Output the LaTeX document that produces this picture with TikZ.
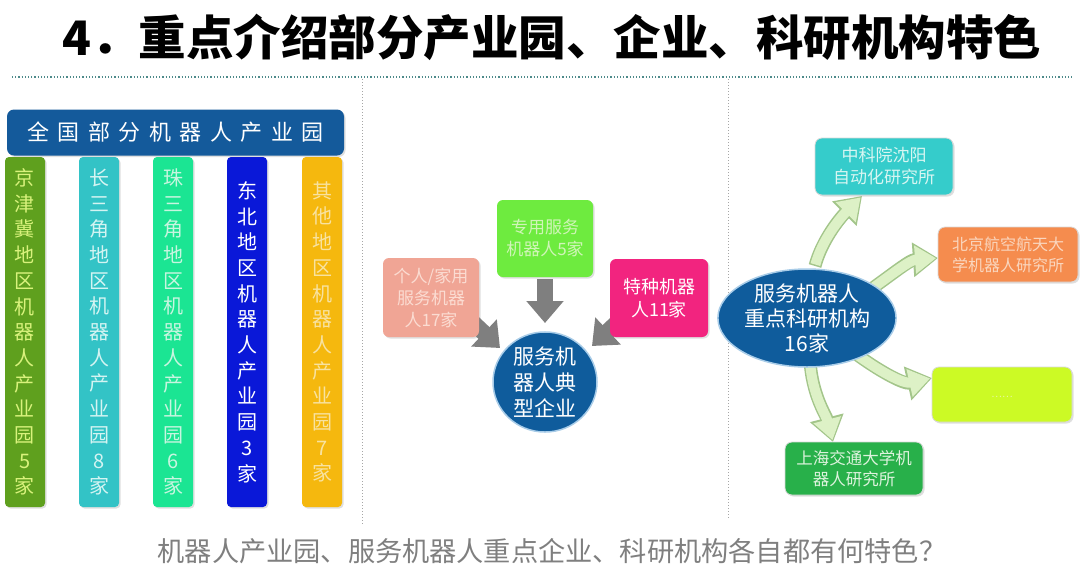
\documentclass[tikz,border=0pt]{standalone}
\usepackage{fontspec}
\newfontfamily\cjk{Noto Sans CJK SC}
\usetikzlibrary{arrows.meta,shapes.geometric,shadows}
\definecolor{hdrblue}{HTML}{145A9B}
\definecolor{colA}{HTML}{5FA01E}\definecolor{txtA}{HTML}{D9F27C}
\definecolor{colB}{HTML}{33C3C6}\definecolor{txtB}{HTML}{D4F4F2}
\definecolor{colC}{HTML}{1BE593}\definecolor{txtC}{HTML}{C8F5E0}
\definecolor{colD}{HTML}{0A18D8}
\definecolor{colE}{HTML}{F5B80E}\definecolor{txtE}{HTML}{F8E2A0}
\definecolor{specg}{HTML}{6EEB3F}\definecolor{spect}{HTML}{D0F5B8}
\definecolor{persp}{HTML}{F0A595}\definecolor{perst}{HTML}{FBDCD2}
\definecolor{magent}{HTML}{F2247F}
\definecolor{circb}{HTML}{0F5C9C}\definecolor{circl}{HTML}{A8CCE8}
\definecolor{tealb}{HTML}{35CCCB}\definecolor{tealt}{HTML}{D8F6F2}
\definecolor{orab}{HTML}{F58C4E}\definecolor{orat}{HTML}{FAD6BE}
\definecolor{limeb}{HTML}{CCFA25}\definecolor{limet}{HTML}{E8F8A0}
\definecolor{grnb}{HTML}{28B04A}\definecolor{grnt}{HTML}{DDF3DD}
\definecolor{arrfill}{HTML}{DDF1C6}\definecolor{arrline}{HTML}{A3C58A}
\definecolor{grayarr}{HTML}{7F7F7F}
\definecolor{dotc}{HTML}{4D8A8A}
\begin{document}
\begin{tikzpicture}[x=1pt,y=-1pt,
  shad/.style={drop shadow={opacity=0.25,shadow xshift=1.5pt,shadow yshift=-1.5pt}},
  sepline/.style={draw=dotc,dotted,line width=1.2pt},
  vsep/.style={draw=gray!70,dotted,line width=1pt},
  colbox/.style={rectangle,rounded corners=4pt,minimum width=40pt,minimum height=350pt,inner sep=0pt,align=center,font=\cjk\fontsize{20}{25.7}\selectfont,shad},
  mbox/.style={rectangle,rounded corners=6pt,inner sep=0pt,align=center,font=\cjk\fontsize{17}{22}\selectfont,shad},
  rbox/.style={rectangle,rounded corners=7pt,inner sep=0pt,align=center,minimum width=138pt,minimum height=55pt,font=\cjk\fontsize{16}{21}\selectfont,draw=black!15,line width=0.8pt,shad},
  garrow/.style={draw=grayarr,line width=16pt,-{Triangle[length=22pt,width=36pt]}},
  palout/.style={draw=arrline,line width=13pt,-{Triangle[length=25pt,width=33pt]}},
  palin/.style={draw=arrfill,line width=10pt,-{Triangle[length=21pt,width=27pt]},shorten >=2pt,shorten <=1.5pt},
]
\useasboundingbox (0,0) rectangle (1080,574);
\fill[white] (0,0) rectangle (1080,574);

% title
\node[font=\cjk\bfseries\fontsize{47.5}{52}\selectfont,inner sep=0pt] (title) at (552,37) {4．重点介绍部分产业园、企业、科研机构特色};

% separators
\coordinate (hl) at (12,77); \coordinate (hr) at (1072,77);
\draw[sepline] (hl) -- (hr);
\coordinate (v1t) at (362,79); \coordinate (v1b) at (362,525);
\coordinate (v2t) at (728,79); \coordinate (v2b) at (728,518);
\draw[vsep] (v1t) -- (v1b);
\draw[vsep] (v2t) -- (v2b);

% left panel columns
\node[colbox,fill=colA,text=txtA] (cA) at (25,332) {京\\津\\冀\\地\\区\\机\\器\\人\\产\\业\\园\\5\\家};
\node[colbox,fill=colB,text=txtB] (cB) at (99,332) {长\\三\\角\\地\\区\\机\\器\\人\\产\\业\\园\\8\\家};
\node[colbox,fill=colC,text=txtC] (cC) at (173,332) {珠\\三\\角\\地\\区\\机\\器\\人\\产\\业\\园\\6\\家};
\node[colbox,fill=colD,text=white] (cD) at (247,332) {东\\北\\地\\区\\机\\器\\人\\产\\业\\园\\3\\家};
\node[colbox,fill=colE,text=txtE] (cE) at (322,332) {其\\他\\地\\区\\机\\器\\人\\产\\业\\园\\7\\家};

% header
\node[rectangle,rounded corners=7pt,fill=hdrblue,minimum width=337pt,minimum height=46pt,inner sep=0pt,text=white,font=\cjk\fontsize{22}{26}\selectfont,shad] (hdr) at (175.5,132.5)
 {全\hspace{8.5pt}国\hspace{8.5pt}部\hspace{8.5pt}分\hspace{8.5pt}机\hspace{8.5pt}器\hspace{8.5pt}人\hspace{8.5pt}产\hspace{8.5pt}业\hspace{8.5pt}园};

% middle panel arrows
\coordinate (d1) at (545,279); \coordinate (d2) at (545,323);
\coordinate (l1) at (466,316); \coordinate (l2) at (500,348);
\coordinate (r1) at (624,316); \coordinate (r2) at (592,346);
\draw[garrow] (d1) -- (d2);
\draw[garrow] (l1) -- (l2);
\draw[garrow] (r1) -- (r2);

% middle boxes
\node[mbox,fill=specg,text=spect,minimum width=96pt,minimum height=77pt] (spec) at (545,238.5) {专用服务\\机器人5家};
\node[mbox,fill=persp,text=perst,minimum width=96pt,minimum height=79pt] (pers) at (431,297.5) {个人/家用\\服务机器\\人17家};
\node[mbox,fill=magent,text=white,font=\cjk\fontsize{18}{23}\selectfont,minimum width=98pt,minimum height=78pt] (spc) at (659,298) {特种机器\\人11家};
\node[ellipse,fill=circb,draw=circl,line width=1.5pt,minimum width=104pt,minimum height=98pt,inner sep=0pt,align=center,text=white,font=\cjk\fontsize{21}{26}\selectfont] (circ) at (545,382) {服务机\\器人典\\型企业};

% right panel arrows
\coordinate (a1s) at (815,266); \coordinate (a1e) at (862,196);
\coordinate (a2s) at (870,290); \coordinate (a2e) at (938,258);
\coordinate (a3s) at (856,354); \coordinate (a3e) at (932,378);
\coordinate (a4s) at (810,360); \coordinate (a4e) at (833,442);
\draw[palout] (a1s) .. controls (822,240) and (840,218) .. (a1e);
\draw[palout] (a2s) .. controls (895,272) and (910,260) .. (a2e);
\draw[palout] (a3s) .. controls (885,375) and (905,384) .. (a3e);
\draw[palout] (a4s) .. controls (812,395) and (826,415) .. (a4e);
\draw[palin] (a1s) .. controls (822,240) and (840,218) .. (a1e);
\draw[palin] (a2s) .. controls (895,272) and (910,260) .. (a2e);
\draw[palin] (a3s) .. controls (885,375) and (905,384) .. (a3e);
\draw[palin] (a4s) .. controls (812,395) and (826,415) .. (a4e);

% right boxes
\node[rbox,fill=tealb,text=tealt,font=\cjk\fontsize{17}{22}\selectfont,minimum height=57pt] (teal) at (884,166.5) {中科院沈阳\\自动化研究所};
\node[rbox,fill=orab,text=orat,minimum width=140pt] (ora) at (1008,254.5) {北京航空航天大\\学机器人研究所};
\node[rbox,fill=limeb,text=limet,minimum width=140pt,font=\cjk\fontsize{10}{12}\selectfont] (lime) at (1002,394.5) {\raisebox{-6pt}{……}};
\node[rbox,fill=grnb,text=grnt,font=\cjk\fontsize{16.5}{21}\selectfont,minimum height=53pt] (grn) at (854,468.5) {上海交通大学机\\器人研究所};
\node[ellipse,fill=circb,draw=circl,line width=1.5pt,minimum width=140pt,minimum height=92pt,inner sep=0pt,align=center,text=white,font=\cjk\fontsize{21}{25}\selectfont] (rell) at (807,318) {服务机器人\\重点科研机构\\16家};

% bottom question
\node[text=grayarr,font=\cjk\fontsize{27.2}{31}\selectfont,inner sep=0pt] (q) at (552,551) {机器人产业园、服务机器人重点企业、科研机构各自都有何特色？};
\end{tikzpicture}
\end{document}
